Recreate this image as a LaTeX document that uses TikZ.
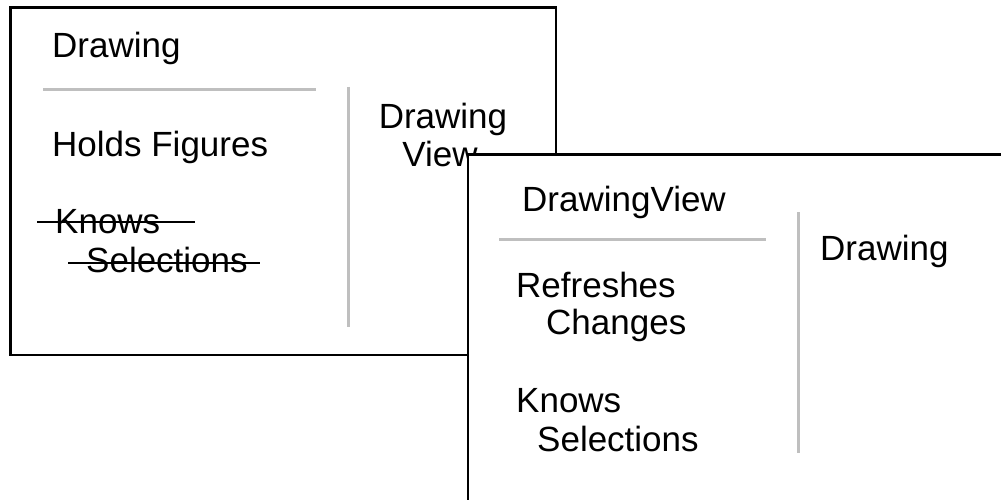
\documentclass[tikz,border=0pt]{standalone}
\usepackage{fontspec}
\setmainfont{Liberation Sans}
\begin{document}
\begin{tikzpicture}[x=1pt, y=-1pt,
  card/.style={draw=black, line width=2.2pt, fill=white},
  rule/.style={draw=black!25, line width=3pt},
  txt/.style={anchor=base west, inner sep=0pt, font=\fontsize{35}{40}\selectfont},
  ctxt/.style={txt, anchor=base},
  strike/.style={line width=1.5pt}]
\useasboundingbox (0,0) rectangle (1001,500);
\clip (0,0) rectangle (1001,500);
% card for Drawing
\draw[card] (10.5,7.5) rectangle (556,355);
\node[txt] (cls1) at (52,58) {Drawing};
\draw[rule] (43,90) -- (316,90);
\draw[rule] (348,87) -- (348,327);
\node[txt] (hold) at (52,157) {Holds Figures};
\node[txt] (know1) at (55,233) {Knows};
\node[txt] (sel1) at (86,272) {Selections};
\draw[strike] (37,222) -- (195,222); % crossed out
\draw[strike] (68,263) -- (260,263);
\node[ctxt] (collab1) at (443,129) {Drawing};
\node[ctxt] (collab1b) at (440,167) {View};
% card for DrawingView, laid on top
\draw[card] (468,154.5) rectangle (1030,530);
\node[txt] (cls2) at (522,211) {DrawingView};
\draw[rule] (499,239) -- (766,239);
\draw[rule] (798,212) -- (798,453);
\node[txt] (collab2) at (820,260) {Drawing};
\node[txt] (refr) at (516,297) {Refreshes};
\node[txt] (chg) at (546,334) {Changes};
\node[txt] (know2) at (516,412) {Knows};
\node[txt] (sel2) at (537,451) {Selections};
\end{tikzpicture}
\end{document}
